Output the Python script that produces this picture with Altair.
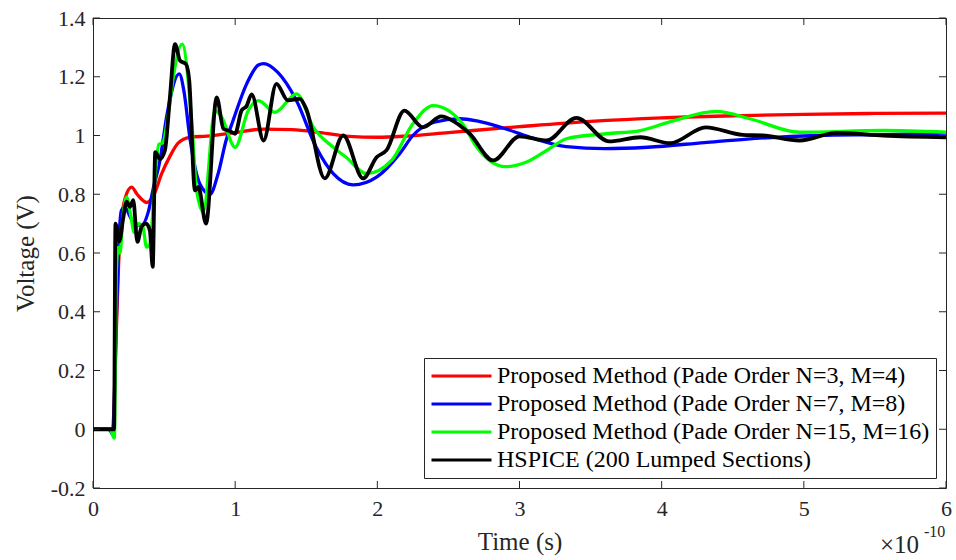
import altair as alt
import pandas as pd

LABELS = [
    "Proposed Method (Pade Order N=3, M=4)",
    "Proposed Method (Pade Order N=7, M=8)",
    "Proposed Method (Pade Order N=15, M=16)",
    "HSPICE (200 Lumped Sections)",
]
COLORS = ["#FF0000", "#0000FF", "#00FF00", "#000000"]

# time in units of 1e-10 s
red_t = [0, 0.11, 0.135, 0.15, 0.165, 0.18, 0.2, 0.225, 0.272, 0.31, 0.377, 0.43, 0.483, 0.54, 0.6,
         0.68, 0.8, 1.0, 1.2, 1.4, 1.6, 1.8, 2.0, 2.2, 2.5, 3.0, 3.5, 4.0, 4.5, 5.0, 5.5, 6.0]
red_v = [0, 0, -0.012, 0.1, 0.35, 0.56, 0.71, 0.785, 0.824, 0.8, 0.772, 0.8, 0.87, 0.928, 0.975,
         0.994, 0.998, 1.01, 1.022, 1.02, 1.01, 0.997, 0.994, 0.998, 1.01, 1.03, 1.048, 1.06, 1.067,
         1.072, 1.075, 1.076]

blue_t = [0, 0.12, 0.14, 0.16, 0.18, 0.2, 0.225, 0.26, 0.3, 0.34, 0.389, 0.424, 0.471, 0.52, 0.607,
          0.64, 0.682, 0.752, 0.823, 0.88, 0.94, 0.97, 1.08, 1.163, 1.2, 1.3, 1.43, 1.57, 1.69, 1.83,
          2.0, 2.16, 2.25, 2.4, 2.58, 2.7, 2.9, 3.1, 3.33, 3.6, 3.9, 4.3, 4.6, 5.1, 5.56, 6.0]
blue_v = [0, 0, -0.02, 0.3, 0.62, 0.745, 0.755, 0.725, 0.695, 0.695, 0.74, 0.82, 0.915, 1.07, 1.21,
          1.15, 0.99, 0.835, 0.80, 0.87, 0.99, 1.03, 1.175, 1.24, 1.245, 1.215, 1.12, 0.96, 0.87, 0.832,
          0.86, 0.94, 1.0, 1.045, 1.057, 1.05, 1.023, 0.99, 0.962, 0.955, 0.96, 0.976, 0.988, 1.0,
          1.003, 1.008]

green_t = [0, 0.12, 0.15, 0.165, 0.178, 0.19, 0.21, 0.237, 0.265, 0.29, 0.32, 0.35, 0.377, 0.40,
           0.44, 0.463, 0.49, 0.53, 0.565, 0.627, 0.694, 0.729, 0.776, 0.858, 0.905, 1.0, 1.092, 1.163,
           1.28, 1.432, 1.55, 1.69, 1.78, 1.925, 2.1, 2.25, 2.393, 2.6, 2.7, 2.9, 3.05, 3.21, 3.33,
           3.61, 3.85, 4.08, 4.385, 4.62, 4.97, 5.56, 6.0]
green_v = [0, 0, -0.03, 0.55, 0.62, 0.60, 0.72, 0.79, 0.73, 0.67, 0.70, 0.69, 0.62, 0.63,
           0.88, 0.97, 0.975, 1.074, 1.2, 1.311, 1.05, 0.813, 0.74, 1.085, 1.062, 0.96, 1.085, 1.119,
           1.079, 1.142, 1.028, 0.96, 0.926, 0.87, 0.915, 1.04, 1.102, 1.04, 0.96, 0.894, 0.91, 0.955,
           0.989, 1.006, 1.017, 1.05, 1.082, 1.057, 1.011, 1.017, 1.011]

black_t = [0, 0.148, 0.158, 0.185, 0.213, 0.237, 0.26, 0.283, 0.312, 0.342, 0.373, 0.40, 0.42, 0.438,
           0.471, 0.506, 0.541, 0.577, 0.612, 0.654, 0.677, 0.717, 0.741, 0.795, 0.87, 0.917, 0.963,
           0.999, 1.045, 1.08, 1.116, 1.2, 1.29, 1.37, 1.455, 1.5, 1.63, 1.76, 1.9, 1.995, 2.065, 2.19,
           2.32, 2.45, 2.58, 2.65, 2.815, 3.0, 3.19, 3.40, 3.63, 3.85, 4.06, 4.31, 4.57, 4.71, 4.97,
           5.23, 5.56, 6.0]
black_v = [0, 0, 0.70, 0.64, 0.72, 0.775, 0.757, 0.78, 0.638, 0.69, 0.70, 0.677, 0.553, 0.943,
           0.92, 0.95, 1.13, 1.311, 1.255, 1.243, 1.187, 0.813, 0.825, 0.70, 1.13, 1.023, 1.015,
           1.006, 1.085, 1.1, 1.14, 0.983, 1.176, 1.12, 1.125, 1.09, 0.854, 1.0, 0.854, 0.926, 0.95, 1.085,
           1.028, 1.065, 1.034, 1.006, 0.915, 0.997, 0.983, 1.06, 0.98, 0.994, 0.974, 1.028, 1.002, 1.0,
           0.983, 1.009, 1.0, 0.994]

x_ticks = [0, 1, 2, 3, 4, 5, 6]
y_ticks = [-0.2, 0, 0.2, 0.4, 0.6, 0.8, 1, 1.2, 1.4]

series_t = [red_t, blue_t, green_t, black_t]
series_v = [red_v, blue_v, green_v, black_v]
widths = [3.3, 3.3, 3.3, 3.8]

W, H = 853, 470
FONT = "Liberation Serif"
AX = "#262626"

xscale = alt.Scale(domain=[0, 6], nice=False, zero=False)
yscale = alt.Scale(domain=[-0.2, 1.4], nice=False, zero=False)
xaxis = alt.Axis(values=x_ticks, format="d", labelFlush=False)
yaxis = alt.Axis(values=y_ticks, labelExpr="'' + datum.value", labelFlush=False)

legend = alt.Legend(
    title=None, orient="none", legendX=331, legendY=340, direction="vertical",
    symbolType="stroke", symbolSize=3600, symbolStrokeWidth=3,
    labelFont=FONT, labelFontSize=24, labelColor="black", labelLimit=0,
    labelOffset=4, strokeColor=AX, fillColor="white", padding=6,
    clipHeight=24, rowPadding=4,
)

layers = []
for lab, col, ts, vs, w in zip(LABELS, COLORS, series_t, series_v, widths):
    df = pd.DataFrame({"t": ts, "v": vs, "series": lab})
    layers.append(
        alt.Chart(df).mark_line(strokeWidth=w, interpolate="monotone").encode(
            x=alt.X("t:Q", scale=xscale, title="Time (s)", axis=xaxis),
            y=alt.Y("v:Q", scale=yscale, title="Voltage (V)", axis=yaxis),
            color=alt.Color("series:N", scale=alt.Scale(domain=LABELS, range=COLORS), legend=legend),
        )
    )

yt = pd.DataFrame({"v": y_ticks})
xt = pd.DataFrame({"t": x_ticks})
TL = 7
tick_layers = [
    alt.Chart(yt).mark_rule(color=AX, strokeWidth=1).encode(
        y=alt.Y("v:Q", scale=yscale, title="Voltage (V)", axis=yaxis), x=alt.value(0), x2=alt.value(TL)),
    alt.Chart(yt).mark_rule(color=AX, strokeWidth=1).encode(
        y=alt.Y("v:Q", scale=yscale, title="Voltage (V)", axis=yaxis), x=alt.value(W - TL), x2=alt.value(W)),
    alt.Chart(xt).mark_rule(color=AX, strokeWidth=1).encode(
        x=alt.X("t:Q", scale=xscale, title="Time (s)", axis=xaxis), y=alt.value(H), y2=alt.value(H - TL)),
    alt.Chart(xt).mark_rule(color=AX, strokeWidth=1).encode(
        x=alt.X("t:Q", scale=xscale, title="Time (s)", axis=xaxis), y=alt.value(0), y2=alt.value(TL)),
]

mult = alt.Chart(pd.DataFrame({"s": ["×10"]})).mark_text(
    font=FONT, fontSize=25, align="left", baseline="alphabetic", color=AX
).encode(x=alt.value(787), y=alt.value(535), text="s:N")
expo = alt.Chart(pd.DataFrame({"s": ["-10"]})).mark_text(
    font=FONT, fontSize=16, align="left", baseline="alphabetic", color=AX
).encode(x=alt.value(831), y=alt.value(519), text="s:N")

chart = alt.layer(*layers, *tick_layers, mult, expo).properties(
    width=W, height=H,
    autosize=alt.AutoSizeParams(type="none"),
    padding={"left": 93, "top": 18, "right": 10, "bottom": 72},
    background="white",
).configure_view(
    stroke=AX, strokeWidth=1
).configure_axis(
    labelFont=FONT, labelFontSize=22, labelColor=AX, ticks=False, domain=False, grid=False,
    titleFont=FONT, titleFontSize=25, titleFontWeight="normal", titleColor=AX,
).configure_axisX(
    labelPadding=10, titlePadding=10,
).configure_axisY(
    labelPadding=8, titlePadding=12,
)

chart.save("out.html", embed_options={"renderer": "svg", "actions": False})
